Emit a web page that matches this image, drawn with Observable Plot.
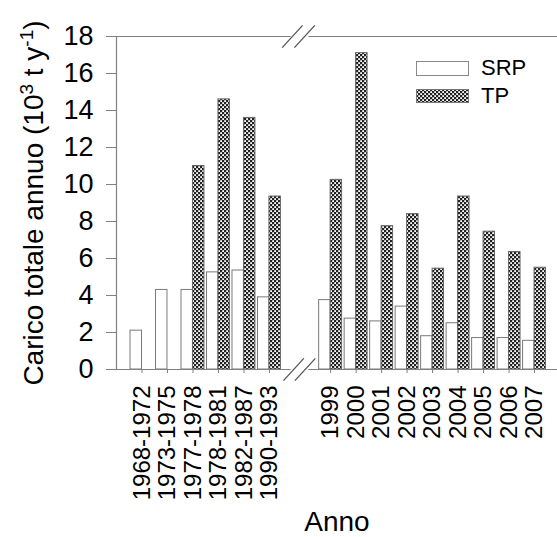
<!DOCTYPE html>
<html><head><meta charset="utf-8">
<script src="https://cdn.jsdelivr.net/npm/d3@7"></script>
<script src="https://cdn.jsdelivr.net/npm/@observablehq/plot@0.6"></script>
<style>
body{margin:0;background:#fff;font-family:"Liberation Sans",Arial,sans-serif;}
#wrap{position:relative;width:557px;height:537px;overflow:hidden;}
.lg{position:absolute;font-size:22px;line-height:22px;color:#000;white-space:nowrap;}
</style></head><body><div id="wrap"></div>
<script>
// ---- data ----
const categories = ["1968-1972","1973-1975","1977-1978","1978-1981","1982-1987","1990-1993",
  "1999","2000","2001","2002","2003","2004","2005","2006","2007"];
const srpValues = [2.1,4.3,4.3,5.25,5.35,3.9,3.75,2.75,2.6,3.4,1.8,2.5,1.7,1.7,1.55];
const tpValues  = [null,null,11.0,14.6,13.6,9.35,10.25,17.1,7.75,8.4,5.45,9.35,7.45,6.35,5.5];
const seriesNames = ["SRP","TP"];
const yTicks = [0,2,4,6,8,10,12,14,16,18];
const yTitle = "Carico totale annuo (10^3 t y^-1)";
const xTitle = "Anno";
const periodsBeforeBreak = 6;

// ---- layout helpers ----
const breakGap = 1.4;            // extra slots for the axis break
const barW = 0.45;
const xDomain = [-1, 16.3];
const pos = categories.map((c, i) => i + (i >= periodsBeforeBreak ? breakGap : 0));
const labelOf = new Map(pos.map((p, i) => [p, categories[i]]));

const srpRows = categories.map((c, i) => ({cat: c, value: srpValues[i], x1: pos[i] - barW, x2: pos[i]}));
const tpRows = categories.map((c, i) => ({cat: c, value: tpValues[i], x1: pos[i], x2: pos[i] + barW}))
  .filter(d => d.value != null);

const breakL = 5.85, breakR = 6.55;
const axisSegments = [
  {y: 0, x1: xDomain[0], x2: breakL}, {y: 0, x1: breakR, x2: xDomain[1]},
  {y: 18, x1: xDomain[0], x2: breakL}, {y: 18, x1: breakR, x2: xDomain[1]}
];
const slashes = [{x: 5.95, y: 0}, {x: 6.4, y: 0}, {x: 5.9, y: 18}, {x: 6.38, y: 18}];
const grey = "#808080";

const chart = Plot.plot({
  width: 557, height: 537,
  marginLeft: 116, marginRight: 0, marginTop: 36, marginBottom: 168,
  style: {fontFamily: "'Liberation Sans', Arial, sans-serif", color: "#000", background: "#fff", overflow: "visible"},
  x: {type: "linear", domain: xDomain},
  y: {domain: [0, 18]},
  marks: [
    Plot.rect(srpRows, {x1: "x1", x2: "x2", y1: 0, y2: "value", fill: "white", stroke: "#7a7a7a", strokeWidth: 1}),
    Plot.rect(tpRows, {x1: "x1", x2: "x2", y1: 0, y2: "value", fill: "url(#xhatch)", stroke: "#666", strokeWidth: 1}),
    Plot.ruleY(axisSegments, {y: "y", x1: "x1", x2: "x2", stroke: grey, strokeWidth: 1.2}),
    Plot.ruleX([xDomain[0]], {y1: 0, y2: 18, stroke: grey, strokeWidth: 1.2}),
    Plot.link(slashes, {x1: d => d.x - 0.4, x2: d => d.x + 0.4, y1: d => d.y - 0.6, y2: d => d.y + 0.6, stroke: "#555", strokeWidth: 1.3}),
    Plot.axisY({ticks: yTicks, tickSize: 10, tickPadding: 13, fontSize: 27, stroke: grey, fill: "#000", label: null}),
    Plot.axisX({ticks: pos, tickFormat: d => labelOf.get(d), tickRotate: -90, tickSize: 4, tickPadding: 12,
      fontSize: 24, stroke: grey, fill: "#000", label: null}),
    Plot.text([yTitle], {text: d => d, frameAnchor: "left", rotate: -90, dx: -74, lineAnchor: "bottom",
      textAnchor: "middle", fontSize: 28, fill: "#000"}),
    Plot.text([xTitle], {text: d => d, frameAnchor: "bottom", dy: 161, lineAnchor: "bottom", fontSize: 28, fill: "#000"})
  ]
});

const svg = d3.select(chart);
svg.insert("defs", ":first-child").html(
  `<pattern id="xhatch" width="4" height="4" patternUnits="userSpaceOnUse">
     <rect width="4" height="4" fill="#222"/>
     <rect x="0.2" y="0.2" width="1.8" height="1.8" fill="#fff"/>
     <rect x="2.2" y="2.2" width="1.8" height="1.8" fill="#fff"/>
   </pattern>`);

// superscripts in the y title
svg.selectAll("text").filter(function() { return this.textContent === yTitle; }).each(function() {
  const t = d3.select(this);
  t.text(null);
  const parts = yTitle.split(/\^(-?\d+)/);
  parts.forEach((p, k) => {
    if (k % 2 === 0) { if (p) t.append("tspan").attr("dy", k ? 10 : null).text(p); }
    else t.append("tspan").attr("font-size", "19px").attr("dy", -10).text(p);
  });
});

const wrap = document.getElementById("wrap");
wrap.appendChild(chart);

// legend
const lgSrp = document.createElement("div");
lgSrp.style.cssText = "position:absolute;left:416px;top:61px;width:53px;height:15px;box-sizing:border-box;border:1px solid #888;background:#fff;";
wrap.appendChild(lgSrp);
const lgTp = document.createElementNS("http://www.w3.org/2000/svg", "svg");
lgTp.setAttribute("width", 53); lgTp.setAttribute("height", 14);
lgTp.style.cssText = "position:absolute;left:416px;top:89px;";
lgTp.innerHTML = `<rect x="0.5" y="0.5" width="52" height="13" fill="url(#xhatch)" stroke="#777"/>`;
wrap.appendChild(lgTp);
[[seriesNames[0], 57], [seriesNames[1], 84.5]].forEach(([name, top]) => {
  const d = document.createElement("div");
  d.className = "lg"; d.style.left = "481px"; d.style.top = top + "px"; d.textContent = name;
  wrap.appendChild(d);
});
</script></body></html>
